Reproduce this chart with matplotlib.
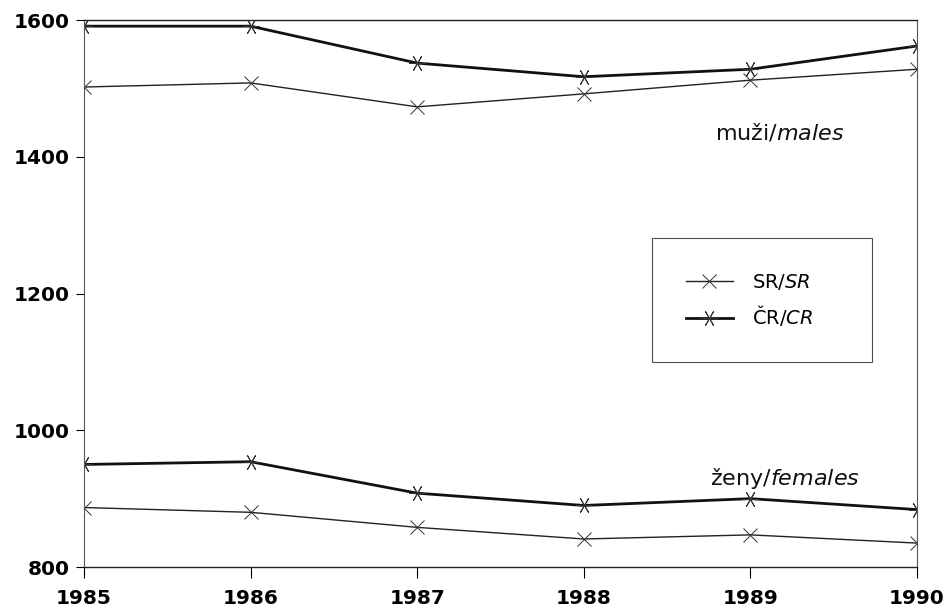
import matplotlib.pyplot as plt

years = [1985, 1986, 1987, 1988, 1989, 1990]
males_sr = [1502, 1508, 1473, 1492, 1512, 1528]
males_cr = [1591, 1591, 1537, 1517, 1528, 1562]
females_sr = [887, 880, 858, 841, 847, 835]
females_cr = [950, 954, 908, 890, 900, 884]

yticks = [800, 1000, 1200, 1400, 1600]

plt.rcParams['font.family'] = 'DejaVu Sans'
plt.rcParams['mathtext.fontset'] = 'dejavusans'

fig = plt.figure(figsize=(9.47, 6.12), dpi=100)
ax = fig.add_axes([0.0887, 0.0735, 0.8796, 0.8938])

sr_style = dict(color='#222222', lw=1.0, marker='x', markersize=10,
                markeredgewidth=0.7, markeredgecolor='#333333')
cr_style = dict(color='#111111', lw=2.0, marker=(6, 2, 90), markersize=12,
                markeredgewidth=0.7, markeredgecolor='#333333')

ax.plot(years, males_sr, label='SR/$\\it{SR}$', **sr_style)
ax.plot(years, males_cr, label='ČR/$\\it{CR}$', **cr_style)
ax.plot(years, females_sr, **sr_style)
ax.plot(years, females_cr, **cr_style)

ax.text(1988.79, 1425, 'muži/$\\it{males}$', fontsize=16, color='#111111')
ax.text(1988.76, 920, 'ženy/$\\it{females}$', fontsize=16, color='#111111')

ax.set_xlim(1985, 1990)
ax.set_ylim(800, 1600)
ax.set_xticks(years)
ax.set_yticks(yticks)
for lbl in ax.get_xticklabels() + ax.get_yticklabels():
    lbl.set_fontweight('bold')
    lbl.set_fontsize(14.5)
ax.tick_params(axis='x', direction='out', length=8, width=0.8, pad=8)
ax.tick_params(axis='y', direction='out', length=6, width=0.8, pad=4)

for side in ['top', 'bottom']:
    ax.spines[side].set_linewidth(1.0)
    ax.spines[side].set_color('#222222')
for side in ['left', 'right']:
    ax.spines[side].set_linewidth(0.8)
    ax.spines[side].set_color('#555555')
ax.spines['right'].set_linestyle((0, (3, 1)))

leg = ax.legend(loc='center', bbox_to_anchor=(0.682, 0.373, 0.264, 0.230),
                mode='expand', borderaxespad=0, fontsize=14, frameon=True,
                fancybox=False, edgecolor='#222222', borderpad=1.75,
                labelspacing=0.6, handlelength=2.4, handletextpad=1.0)
leg.get_frame().set_linewidth(0.8)

fig.savefig('out.png', dpi=100)
